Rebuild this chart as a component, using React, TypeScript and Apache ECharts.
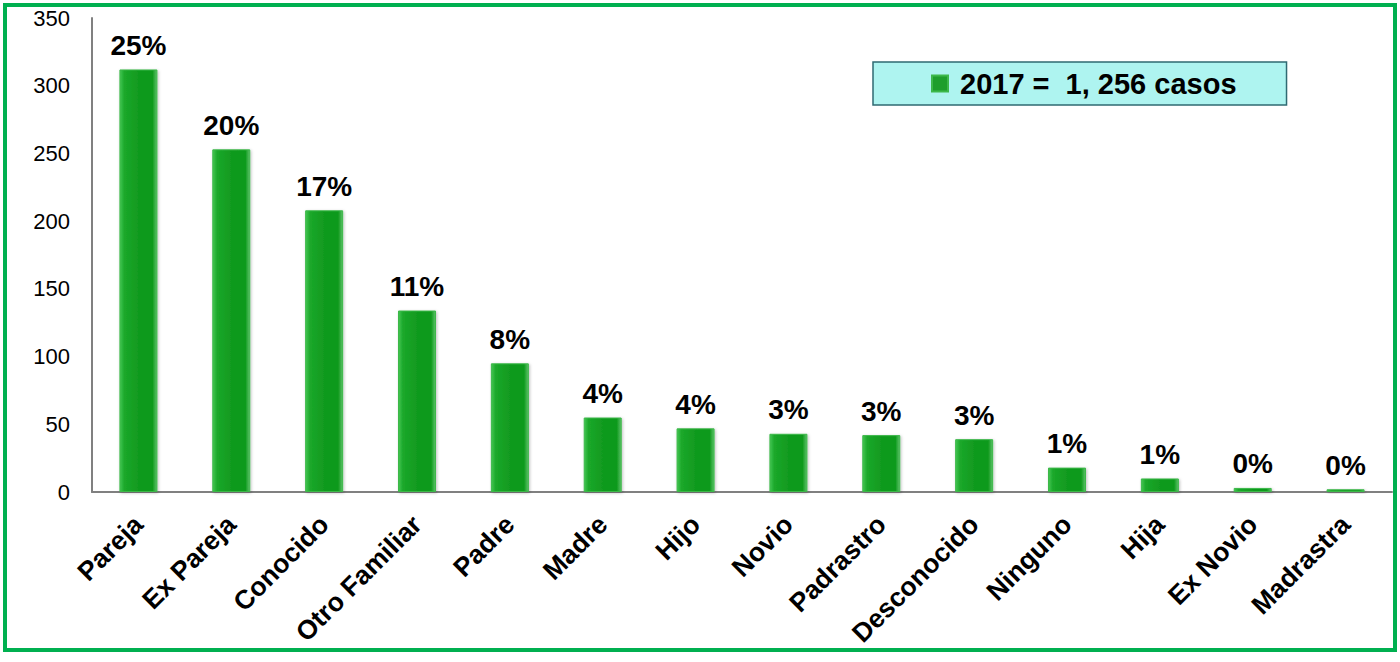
import React, { useEffect, useRef } from "react";
import * as echarts from "echarts";

const categories = [
  "Pareja", "Ex Pareja", "Conocido", "Otro Familiar", "Padre", "Madre", "Hijo",
  "Novio", "Padrastro", "Desconocido", "Ninguno", "Hija", "Ex Novio", "Madrastra",
];
const values = [312, 253, 208, 134, 95, 55, 47, 43, 42, 39, 18, 10, 3, 2];
const percentLabels = ["25%", "20%", "17%", "11%", "8%", "4%", "4%", "3%", "3%", "3%", "1%", "1%", "0%", "0%"];
const seriesName = "2017 =  1, 256 casos";
const yTicks = { min: 0, max: 350, interval: 50 };

export default function App() {
  const ref = useRef<HTMLDivElement>(null);
  useEffect(() => {
    if (!ref.current) return;
    const chart = echarts.init(ref.current, null, { renderer: "svg" });
    const font = "Liberation Sans, Arial, sans-serif";
    chart.setOption({
      animation: false,
      backgroundColor: "#ffffff",
      textStyle: { fontFamily: font },
      graphic: [
        {
          type: "rect",
          shape: { x: 5, y: 5, width: 1390, height: 645 },
          style: { fill: "none", stroke: "#00B050", lineWidth: 4 },
          z: 100,
        },
      ],
      legend: {
        show: true,
        left: 873,
        top: 62,
        backgroundColor: "#AEF4F0",
        borderColor: "#2F6A72",
        borderWidth: 1.5,
        borderRadius: 0,
        padding: [7, 50, 7, 58],
        itemWidth: 16,
        itemHeight: 16,
        itemGap: 10,
        icon: "rect",
        textStyle: {
          fontSize: 29,
          fontWeight: "bold",
          color: "#000",
          fontFamily: font,
          padding: [0, 0, 0, 7],
        },
        data: [{ name: seriesName, itemStyle: { color: "#1E9E2C" } }],
      },
      grid: { left: 92, top: 18, right: 8, bottom: 170, containLabel: false },
      xAxis: {
        type: "category",
        data: categories,
        axisLine: { show: true, lineStyle: { color: "#808080", width: 2 } },
        axisTick: { show: false },
        axisLabel: {
          rotate: 45,
          interval: 0,
          fontSize: 26.5,
          fontWeight: "bold",
          color: "#000",
          fontFamily: font,
          margin: 28,
        },
      },
      yAxis: {
        type: "value",
        min: yTicks.min,
        max: yTicks.max,
        interval: yTicks.interval,
        splitLine: { show: false },
        axisLine: { show: true, lineStyle: { color: "#808080", width: 2 } },
        axisTick: { show: false },
        axisLabel: { fontSize: 22, color: "#000", fontFamily: font, margin: 22 },
      },
      series: [
        {
          name: seriesName,
          type: "bar",
          data: values,
          barWidth: 38,
          itemStyle: {
            color: new echarts.graphic.LinearGradient(0, 0, 1, 0, [
              { offset: 0, color: "#44C652" },
              { offset: 0.12, color: "#1BA82A" },
              { offset: 0.5, color: "#119A1F" },
              { offset: 0.88, color: "#0E9A1C" },
              { offset: 1, color: "#5DC26A" },
            ]),
            borderColor: "#3DB84A",
            borderWidth: 1,
            shadowColor: "rgba(0,0,0,0.25)",
            shadowBlur: 3,
            shadowOffsetX: 1,
            shadowOffsetY: 1,
          },
          label: {
            show: true,
            position: "top",
            distance: 10,
            fontSize: 28,
            fontWeight: "bold",
            color: "#000",
            fontFamily: font,
            formatter: (p: any) => percentLabels[p.dataIndex],
          },
        },
      ],
    });
    return () => chart.dispose();
  }, []);
  return (
    <div
      ref={ref}
      style={{ position: "absolute", left: 0, top: 0, width: 1400, height: 662 }}
    />
  );
}
